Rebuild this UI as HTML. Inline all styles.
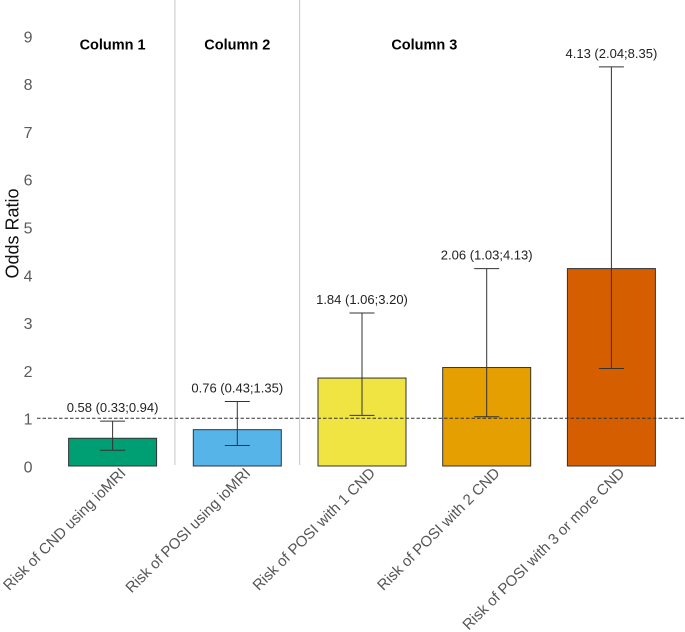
<!DOCTYPE html>
<html>
<head>
<meta charset="utf-8">
<style>
html,body{margin:0;padding:0;background:#fff;width:685px;height:632px;overflow:hidden}
svg{display:block;font-family:"Liberation Sans",sans-serif}
</style>
</head>
<body>
<svg id="chart" width="685" height="632" viewBox="0 0 685 632" xmlns="http://www.w3.org/2000/svg"></svg>
<script>
const categories = ["Risk of CND using ioMRI","Risk of POSI using ioMRI","Risk of POSI with 1 CND","Risk of POSI with 2 CND","Risk of POSI with 3 or more CND"];
const oddsRatios = [0.58,0.76,1.84,2.06,4.13];
const ciLower = [0.33,0.43,1.06,1.03,2.04];
const ciUpper = [0.94,1.35,3.20,4.13,8.35];
const valueLabels = ["0.58 (0.33;0.94)","0.76 (0.43;1.35)","1.84 (1.06;3.20)","2.06 (1.03;4.13)","4.13 (2.04;8.35)"];
const barColors = ["#009E73","#56B4E9","#F0E442","#E69F00","#D55E00"];
const yTicks = [0,1,2,3,4,5,6,7,8,9];
const columnTitles = ["Column 1","Column 2","Column 3"];
const columnTitleSlots = [0,1,2.5];
const dividerSlots = [0.5,1.5];
const referenceValue = 1;

const svg = document.getElementById('chart');
const NS = 'http://www.w3.org/2000/svg';
const xScale = s => 112.6 + s * 124.7;
const yScale = v => 466 - v * 47.8;
const barWidth = 88;

function add(tag, attrs, text) {
  const el = document.createElementNS(NS, tag);
  for (const k in attrs) el.setAttribute(k, attrs[k]);
  if (text !== undefined) el.textContent = text;
  svg.appendChild(el);
  return el;
}

dividerSlots.forEach((s) => {
  const el = add('line', {x1: xScale(s), x2: xScale(s), y1: 0, y2: 465, stroke: '#c8c8c8', 'stroke-width': 1});
  
  
});

yTicks.forEach((t) => {
  const el = add('text', {x: 32.5, y: yScale(t) + 6.5, 'text-anchor': 'end', 'font-size': 16, fill: '#5a5a5a'}, String(t));
  
  
});

const yTitle = add('text', {x: 0, y: 0, transform: 'translate(18.5 233.5) rotate(-90)', 'text-anchor': 'middle', 'font-size': 18, fill: '#111'}, 'Odds Ratio');



columnTitles.forEach((c, i) => {
  const el = add('text', {x: xScale(columnTitleSlots[i]), y: 49.5, 'text-anchor': 'middle', 'font-size': 14.5, 'font-weight': 'bold', fill: '#000'}, c);
  
  
});

categories.forEach((c, i) => {
  const x = xScale(i);
  const top = yScale(oddsRatios[i]);
  const bar = add('rect', {x: x - barWidth / 2, y: top, width: barWidth, height: yScale(0) - top, fill: barColors[i], stroke: '#333', 'stroke-width': 1});
  
  

  const hi = yScale(ciUpper[i]);
  const lo = yScale(ciLower[i]);
  const whisker = add('path', {d: `M${x - 12.5} ${hi}H${x + 12.5}M${x} ${hi}V${lo}M${x - 12.5} ${lo}H${x + 12.5}`, fill: 'none', stroke: '#333', 'stroke-width': 1});
  
  

  const val = add('text', {x: x, y: hi - 9, 'text-anchor': 'middle', 'font-size': 13, fill: '#222'}, valueLabels[i]);
  
  

  const cat = add('text', {x: 0, y: 0, transform: `translate(${x + 14} ${474}) rotate(-45)`, 'text-anchor': 'end', 'font-size': 15, fill: '#555'}, c);
  
  
});

const ref = add('line', {x1: 37, x2: 685, y1: yScale(referenceValue), y2: yScale(referenceValue), stroke: '#333', 'stroke-width': 1, 'stroke-dasharray': '3.5 2'});


</script>
</body>
</html>
